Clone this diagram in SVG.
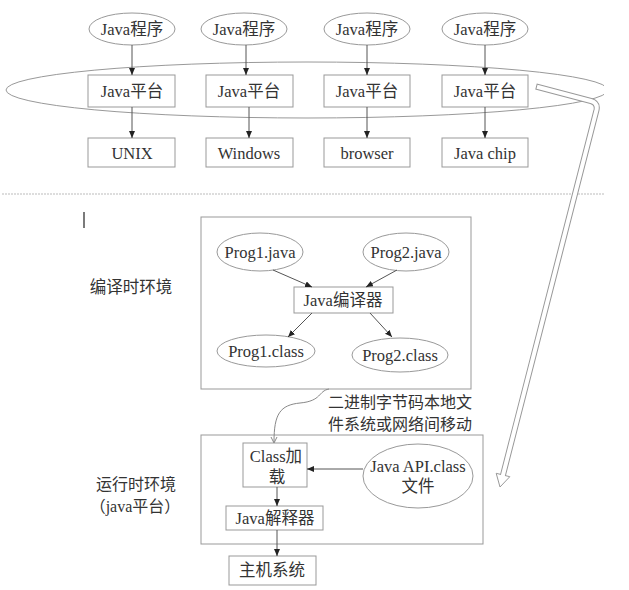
<svg xmlns="http://www.w3.org/2000/svg" width="629" height="590" viewBox="0 0 629 590">
<style>
text{font-size:16.5px;fill:#333;text-anchor:middle;dominant-baseline:central}
.box{fill:#fff;stroke:#999;stroke-width:1}
.ell{fill:#fff;stroke:#999;stroke-width:1}
.ar{fill:none;stroke:#555;stroke-width:1;marker-end:url(#ah)}
.cn{font-size:16px}
</style>
<defs>
<marker id="ah" markerUnits="userSpaceOnUse" markerWidth="8" markerHeight="7" refX="7" refY="3" orient="auto"><path d="M0,0 L7,3 L0,6 z" fill="#222"/></marker>
<clipPath id="clipE"><rect x="0" y="0" width="604" height="200"/></clipPath>
</defs>
<rect width="629" height="590" fill="#fff"/>
<g id="platform-ellipse"><ellipse cx="307" cy="90" rx="301" ry="28" fill="none" stroke="#999" clip-path="url(#clipE)"/></g>
<line x1="2" y1="194" x2="604" y2="194" stroke="#bbb" stroke-dasharray="2,1"/>
<line x1="84" y1="212" x2="84" y2="228" stroke="#222" stroke-width="1.2"/>
<g font-family="'Liberation Serif', 'Noto Sans CJK SC', serif">
<g id="prog1"><ellipse class="ell" cx="132" cy="29" rx="43" ry="16"/><text x="132" y="29">Java程序</text></g>
<g id="prog2"><ellipse class="ell" cx="244" cy="29" rx="43" ry="16"/><text x="244" y="29">Java程序</text></g>
<g id="prog3"><ellipse class="ell" cx="367" cy="29" rx="43" ry="16"/><text x="367" y="29">Java程序</text></g>
<g id="prog4"><ellipse class="ell" cx="485" cy="29" rx="43" ry="16"/><text x="485" y="29">Java程序</text></g>
<g id="plat1"><rect class="box" x="88" y="75" width="87" height="32"/><text x="132" y="91">Java平台</text></g>
<g id="plat2"><rect class="box" x="206" y="75" width="87" height="32"/><text x="249" y="91">Java平台</text></g>
<g id="plat3"><rect class="box" x="324" y="75" width="86" height="32"/><text x="367" y="91">Java平台</text></g>
<g id="plat4"><rect class="box" x="442" y="75" width="86" height="32"/><text x="485" y="91">Java平台</text></g>
<g id="os1"><rect class="box" x="88" y="138" width="87" height="29"/><text x="132" y="153">UNIX</text></g>
<g id="os2"><rect class="box" x="206" y="138" width="87" height="29"/><text x="249" y="153">Windows</text></g>
<g id="os3"><rect class="box" x="324" y="138" width="86" height="29"/><text x="367" y="153">browser</text></g>
<g id="os4"><rect class="box" x="442" y="138" width="86" height="29"/><text x="485" y="153">Java chip</text></g>
<g id="compile-env"><rect class="box" x="201" y="217" width="270" height="172"/></g>
<g id="compile-label"><text x="131" y="287">编译时环境</text></g>
<g id="src1"><ellipse class="ell" cx="260" cy="252" rx="43" ry="19"/><text x="260" y="252">Prog1.java</text></g>
<g id="src2"><ellipse class="ell" cx="406" cy="252" rx="43" ry="19"/><text x="406" y="252">Prog2.java</text></g>
<g id="javac"><rect class="box" x="294" y="287" width="99" height="26"/><text x="343" y="300">Java编译器</text></g>
<g id="cls1"><ellipse class="ell" cx="266" cy="351" rx="49" ry="16"/><text x="266" y="351">Prog1.class</text></g>
<g id="cls2"><ellipse class="ell" cx="400" cy="355" rx="48" ry="17"/><text x="400" y="355">Prog2.class</text></g>
<g id="move-label"><text class="cn" x="400" y="402">二进制字节码本地文</text><text class="cn" x="400" y="424">件系统或网络间移动</text></g>
<g id="run-env"><rect class="box" x="201" y="435" width="282" height="109"/></g>
<g id="run-label"><text class="cn" x="136" y="484">运行时环境</text><text class="cn" x="135" y="506">（java平台）</text></g>
<g id="loader"><rect class="box" x="243" y="443" width="64" height="44"/><text x="276" y="456">Class加</text><text x="277" y="477">载</text></g>
<g id="api"><ellipse class="ell" cx="418" cy="476" rx="55" ry="32"/><text x="418" y="466">Java API.class</text><text x="418" y="486">文件</text></g>
<g id="interp"><rect class="box" x="226" y="506" width="97" height="24"/><text x="275" y="518">Java解释器</text></g>
<g id="host"><rect class="box" x="229" y="556" width="87" height="29"/><text x="272" y="570">主机系统</text></g>
</g>
<g id="connectors">
<line class="ar" x1="132" y1="45" x2="132" y2="75"/>
<line class="ar" x1="246" y1="45" x2="246" y2="75"/>
<line class="ar" x1="367" y1="45" x2="367" y2="75"/>
<line class="ar" x1="485" y1="45" x2="485" y2="75"/>
<line class="ar" x1="132" y1="107" x2="132" y2="138"/>
<line class="ar" x1="249" y1="107" x2="249" y2="138"/>
<line class="ar" x1="367" y1="107" x2="367" y2="138"/>
<line class="ar" x1="485" y1="107" x2="485" y2="138"/>
<line class="ar" x1="273" y1="270" x2="312" y2="287"/>
<line class="ar" x1="397" y1="270" x2="366" y2="287"/>
<line class="ar" x1="312" y1="313" x2="288" y2="337"/>
<line class="ar" x1="370" y1="313" x2="392" y2="337"/>
<line class="ar" x1="363" y1="469" x2="307" y2="469"/>
<line class="ar" x1="277" y1="487" x2="277" y2="506"/>
<line class="ar" x1="277" y1="530" x2="277" y2="556"/>
<path d="M329,389 C318,391 322,401 300,403 C280,405 274,414 274,442" fill="none" stroke="#888" stroke-width="1"/>
<path d="M271,437 L274,443 L277,437" fill="none" stroke="#888" stroke-width="1"/>
<polygon points="496.2,473.3 509.8,476.7 500,487" fill="#fff" stroke="#999" stroke-width="1"/>
<path d="M536,86.5 L591,101 Q598,103 596.5,110 L503,475" fill="none" stroke="#999" stroke-width="6"/>
<path d="M537,86.8 L591,101 Q598,103 596.5,110 L502.6,476.5" fill="none" stroke="#fff" stroke-width="4"/>
</g>
</svg>
